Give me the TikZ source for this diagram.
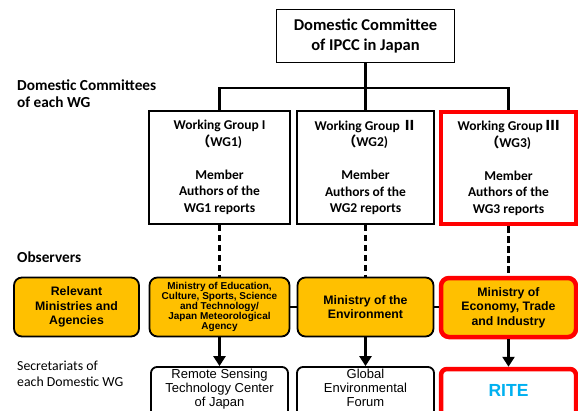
\documentclass[tikz,border=0pt]{standalone}
\usepackage{fontspec}
\setmainfont{Carlito}
\newfontfamily\ari{Liberation Sans}
\newfontfamily\cjk{Noto Sans CJK JP}
\usetikzlibrary{arrows.meta}
\definecolor{org}{HTML}{FFC000}
\definecolor{redb}{HTML}{FF0000}
\definecolor{ritec}{HTML}{00B0F0}
\begin{document}
\begin{tikzpicture}[x=1pt,y=-1pt,
  box/.style={draw, line width=1.8pt, inner sep=0pt, align=center},
  topbox/.style={box, font=\bfseries\fontsize{16.5}{20}\selectfont},
  wgbox/.style={box, minimum height=113pt, font=\bfseries\fontsize{13.5}{16.5}\selectfont},
  obsbox/.style={box, rounded corners=8pt, fill=org, minimum height=59pt, font=\ari\bfseries\fontsize{12.3}{14.5}\selectfont},
  secbox/.style={box, rounded corners=6pt, fill=white, minimum height=58pt},
  sectext/.style={inner sep=0pt, align=center, anchor=north, font=\ari\fontsize{13}{14}\selectfont},
  redframe/.style={draw=redb, line width=4.5pt},
  sidelabel/.style={inner sep=0pt, align=left, anchor=north west},
  conn/.style={line width=2.5pt},
  dashc/.style={line width=2.8pt, dash pattern=on 6.5pt off 3.5pt},
  arr/.style={line width=2.5pt, -{Triangle[length=10pt,width=12pt]}},
  link/.style={line width=1.5pt}
]
\useasboundingbox (0,0) rectangle (578,410);

% side labels
\node[sidelabel, font=\bfseries\fontsize{15.3}{16.5}\selectfont] (lab1) at (17,80) {Domestic Committees\\of each WG};
\node[sidelabel, font=\bfseries\fontsize{15.3}{16.5}\selectfont] (lab2) at (17,252) {Observers};
\node[sidelabel, font=\fontsize{13.8}{16}\selectfont] (lab3) at (17,361) {Secretariats of\\each Domestic WG};

% top
\node[topbox, minimum width=178pt, minimum height=53pt] (top) at (365.5,36) {Domestic Committee\\of IPCC in Japan};

% working groups
\node[wgbox, minimum width=141pt] (wg1) at (219.5,167.5) {Working Group I\\{\cjk （}WG1)\\[16.5pt]Member\\Authors of the\\WG1 reports};
\node[wgbox, minimum width=137pt] (wg2) at (365.5,167.5) {Working Group {\cjk Ⅱ}\\{\cjk （}WG2)\\[16.5pt]Member\\Authors of the\\WG2 reports};
\node[wgbox, redframe, minimum width=135pt, minimum height=112pt] (wg3) at (508.5,168) {Working Group {\cjk Ⅲ}\\{\cjk （}WG3)\\[16.5pt]Member\\Authors of the\\WG3 reports};

% observers
\node[obsbox, minimum width=125pt] (obsA) at (76.5,307) {Relevant\\Ministries and\\Agencies};
\node[obsbox, minimum width=140pt, font=\ari\bfseries\fontsize{10}{10}\selectfont] (obsB) at (219.5,307) {Ministry of Education,\\Culture, Sports, Science\\and Technology/\\Japan Meteorological\\Agency};
\node[obsbox, minimum width=136pt] (obsC) at (365.5,307) {Ministry of the\\Environment};
\node[obsbox, redframe, minimum width=135pt] (obsD) at (508.5,307.5) {Ministry of\\Economy, Trade\\and Industry};

% secretariats
\node[secbox, minimum width=137pt] (secB) at (219.5,396) {};
\node[secbox, minimum width=137pt] (secC) at (365.5,396) {};
\node[secbox, redframe, minimum width=135pt] (secD) at (508.5,398) {};
\node[sectext] (tB) at ([yshift=-3pt]secB.north) {Remote Sensing\\Technology Center\\of Japan};
\node[sectext] (tC) at ([yshift=-3pt]secC.north) {Global\\Environmental\\Forum};
\node[inner sep=0pt, font=\ari\bfseries\fontsize{17.5}{20}\selectfont, text=ritec] (tD) at (508.5,390) {RITE};

% connectors
\coordinate (bus) at (365.5,88);
\draw[conn] (top.south) -- (wg2.north);
\draw[conn] (wg1.north) -- (wg1.north |- bus) -- (wg3.north |- bus) -- (wg3.north);

\draw[dashc] (wg1.south) -- (obsB.north);
\draw[dashc] (wg2.south) -- (obsC.north);
\draw[dashc] (wg3.south) -- (obsD.north);

\draw[link] (obsB.east) -- (obsB.east -| obsC.west);
\draw[link] (obsC.east) -- (obsC.east -| obsD.west);

\draw[arr] (obsB.south) -- (secB.north);
\draw[arr] (obsC.south) -- (secC.north);
\draw[arr] (obsD.south) -- (secD.north);
\end{tikzpicture}
\end{document}
